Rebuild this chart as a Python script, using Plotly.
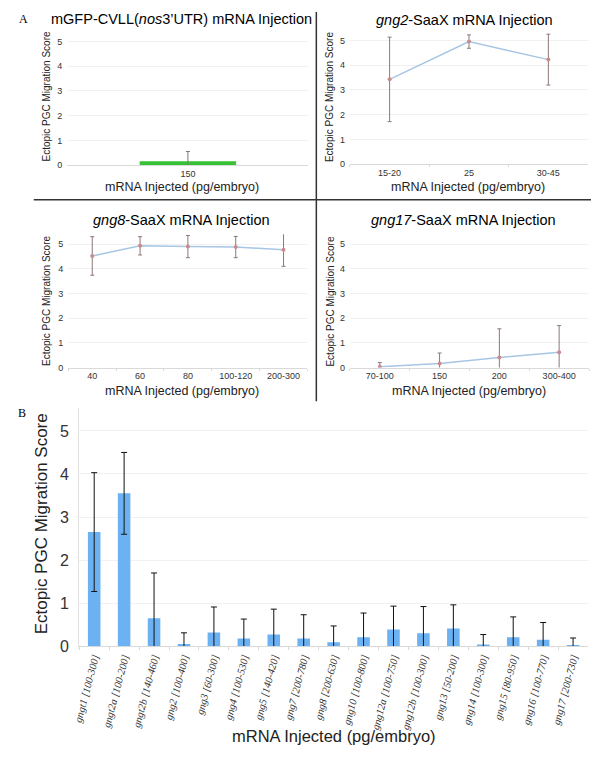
import plotly.graph_objects as go

# Page body keeps its default 8px margin, so the figure is 16px smaller than the window
PAGE_W, PAGE_H = 599, 759
OFF = 8
W, H = PAGE_W - 2 * OFF, PAGE_H - 2 * OFF

# ---------------- data ----------------
p1_cats = ["150"]
p1_vals = [0.15]
p1_err = [0.4]

p2_cats = ["15-20", "25", "30-45"]
p2_vals = [3.43, 4.96, 4.23]
p2_err = [1.71, 0.27, 1.03]

p3_cats = ["40", "60", "80", "100-120", "200-300"]
p3_vals = [4.52, 4.93, 4.9, 4.88, 4.77]
p3_err = [0.78, 0.37, 0.45, 0.43, 0.67]

p4_cats = ["70-100", "150", "200", "300-400"]
p4_vals = [0.03, 0.17, 0.41, 0.62]
p4_err = [0.17, 0.42, 1.16, 1.08]

b_genes = ["gngt1", "gngt2a", "gngt2b", "gng2", "gng3", "gng4", "gng5", "gng7", "gng8",
           "gng10", "gng12a", "gng12b", "gng13", "gng14", "gng15", "gng16", "gng17"]
b_ranges = ["[100-300]", "[100-200]", "[140-460]", "[100-400]", "[60-300]", "[100-530]",
            "[140-420]", "[200-780]", "[200-630]", "[100-800]", "[100-750]", "[100-300]",
            "[50-200]", "[100-300]", "[80-950]", "[100-770]", "[200-730]"]
b_vals = [2.65, 3.55, 0.65, 0.05, 0.32, 0.18, 0.27, 0.18, 0.09,
          0.21, 0.39, 0.30, 0.41, 0.04, 0.21, 0.15, 0.02]
b_err = [1.38, 0.95, 1.05, 0.26, 0.59, 0.45, 0.59, 0.55, 0.38,
         0.56, 0.54, 0.62, 0.55, 0.23, 0.47, 0.40, 0.17]
b_labels = [f"<i>{g} {r}</i>" for g, r in zip(b_genes, b_ranges)]

# ---------------- helpers (page pixels -> paper fraction) ----------------
def fx(px):
    return (px - OFF) / W

def fy(py):
    return 1 - (py - OFF) / H

SANS = "Liberation Sans, Arial, sans-serif"
SERIF = "Liberation Serif, Times New Roman, serif"
LINE_C = "#a6c6e4"
MARK_C = "#c98c8c"
ERR_C = "#8f7676"

fig = go.Figure()

fig.add_trace(go.Bar(x=p1_cats, y=p1_vals, width=0.4, marker=dict(color="#35c235", line=dict(width=0)),
                     error_y=dict(type="data", array=p1_err, color="#7a7a7a", thickness=1, width=2),
                     xaxis="x", yaxis="y", showlegend=False))

def line_trace(cats, vals, err, xa, ya):
    return go.Scatter(x=cats, y=vals, mode="lines+markers",
                      line=dict(color=LINE_C, width=1.5),
                      marker=dict(color=MARK_C, size=4),
                      error_y=dict(type="data", array=err, color=ERR_C, thickness=1, width=2),
                      xaxis=xa, yaxis=ya, showlegend=False)

fig.add_trace(line_trace(p2_cats, p2_vals, p2_err, "x2", "y2"))
fig.add_trace(line_trace(p3_cats, p3_vals, p3_err, "x3", "y3"))
fig.add_trace(line_trace(p4_cats, p4_vals, p4_err, "x4", "y4"))

fig.add_trace(go.Bar(x=b_labels, y=b_vals, width=0.42,
                     marker=dict(color="#6cb2f2", line=dict(width=0)),
                     error_y=dict(type="data", array=b_err, color="#111111", thickness=1, width=3),
                     xaxis="x5", yaxis="y5", showlegend=False))

# ---------------- axes ----------------
def xax(x0, x1, n, anchor, tickfont_size=9, font=SANS, angle=0, ticklen=2):
    return dict(domain=[fx(x0), fx(x1)], anchor=anchor, type="category",
                range=[-0.5, n - 0.5], autorange=False,
                showline=True, linecolor="#d9d9d9", linewidth=1,
                ticks="outside", ticklen=ticklen, tickcolor="#d9d9d9", tickson="boundaries",
                showgrid=False, tickangle=angle,
                tickfont=dict(family=font, size=tickfont_size, color="#333333"))

def yax(top_px, zero_px, rng, anchor, size=9, standoff=4):
    return dict(domain=[fy(zero_px), fy(top_px)], anchor=anchor, range=rng, autorange=False,
                tickvals=[0, 1, 2, 3, 4, 5], showline=False, zeroline=False,
                showgrid=True, gridcolor="#f1f1f1", gridwidth=1,
                ticks="", ticklabelstandoff=standoff,
                tickfont=dict(family=SANS, size=size, color="#333333"))

layout = dict(
    width=W, height=H, margin=dict(l=0, r=0, t=0, b=0),
    paper_bgcolor="white", plot_bgcolor="white",
    xaxis=xax(61, 305, len(p1_cats), "y"),
    yaxis=yax(32, 167, [0, 5.4], "x"),
    xaxis2=xax(347, 588, len(p2_cats), "y2"),
    yaxis2=yax(31, 166, [0, 5.4], "x2"),
    xaxis3=xax(62, 304, len(p3_cats), "y3"),
    yaxis3=yax(237, 372, [0, 5.4], "x3"),
    xaxis4=xax(347, 589, len(p4_cats), "y4"),
    yaxis4=yax(237, 372, [0, 5.4], "x4"),
    xaxis5=xax(73, 588, len(b_labels), "y5", tickfont_size=10.5, font=SERIF, angle=-75, ticklen=3),
    yaxis5=yax(413, 654, [0, 5.53], "x5", size=16, standoff=6),
)
layout["yaxis5"]["showline"] = True
layout["yaxis5"]["linecolor"] = "#e3e3e3"
layout["xaxis"]["ticks"] = ""
fig.update_layout(**layout)

# ---------------- text ----------------
ann = []

def text(x, y, s, size, family=SANS, angle=0, color="black"):
    ann.append(dict(x=fx(x), y=fy(y), xref="paper", yref="paper", text=s, showarrow=False,
                    xanchor="center", yanchor="middle", textangle=angle,
                    font=dict(family=family, size=size, color=color)))

text(17, 19, "A", 12, SERIF)
text(15, 418, "B", 12, SERIF)

text(177, 19, "mGFP-CVLL(<i>nos</i>3’UTR) mRNA Injection", 14.5)
text(463, 20, "<i>gng2</i>-SaaX mRNA Injection", 14.5)
text(177, 223, "<i>gng8</i>-SaaX mRNA Injection", 14.5)
text(462, 223, "<i>gng17</i>-SaaX mRNA Injection", 14.5)

for xx, yy in [(40, 98), (327, 98), (40, 305), (327, 305)]:
    text(xx, yy, "Ectopic PGC Migration Score", 10, angle=-90, color="#222222")

for xx, yy in [(177, 189), (467, 189), (177, 396), (468, 396)]:
    text(xx, yy, "mRNA Injected (pg/embryo)", 12.5, color="#222222")

text(35, 530, "Ectopic PGC Migration Score", 17, angle=-90, color="#222222")
text(331, 745, "mRNA Injected (pg/embryo)", 16.5, color="#222222")

fig.update_layout(annotations=ann)

# ---------------- separators ----------------
fig.add_shape(type="line", xref="paper", yref="paper", x0=fx(27), x1=fx(598), y0=fy(202), y1=fy(202),
              line=dict(color="#333333", width=1.5))
fig.add_shape(type="line", xref="paper", yref="paper", x0=fx(313), x1=fx(313), y0=fy(12), y1=fy(406),
              line=dict(color="#333333", width=1.5))

fig.write_html("out.html", config={"displayModeBar": False})
